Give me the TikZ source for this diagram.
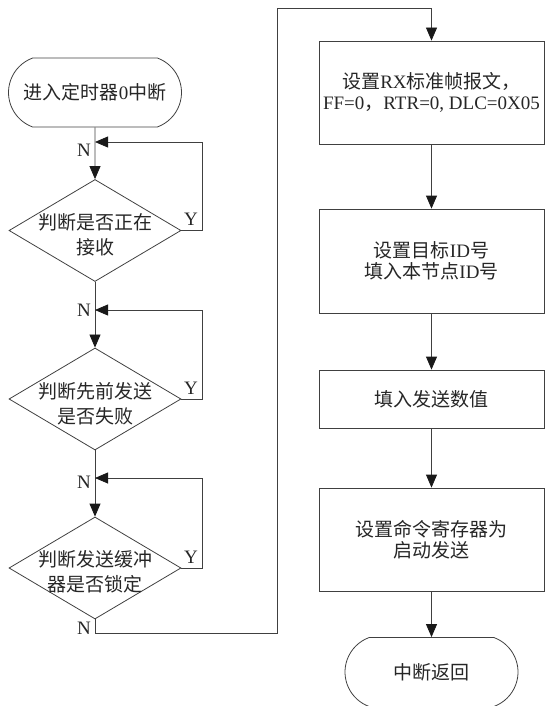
\documentclass[tikz,border=0pt]{standalone}
\usepackage{fontspec}
\setmainfont{Liberation Serif}
\newfontfamily\cjk{Noto Sans CJK SC}
\newfontfamily\latf{Liberation Serif}
\newcommand\lat[1]{{\latf #1}}
\usetikzlibrary{shapes.geometric,shapes.misc,arrows.meta}
\begin{document}
\begin{tikzpicture}[x=1pt,y=-1pt,
  every node/.style={text=black!85},
  txt/.style={font=\cjk\fontsize{19}{21}\selectfont, align=center},
  dtxt/.style={font=\cjk\fontsize{19}{25}\selectfont, align=center, inner sep=0pt},
  term/.style={rounded rectangle, rounded rectangle arc length=140, draw=black!75, line width=0.8pt, minimum width=173pt, minimum height=69pt, inner sep=0pt, txt},
  dia/.style={diamond, draw=black!75, line width=0.8pt, inner sep=0pt, minimum width=172pt, minimum height=102pt},
  proc/.style={rectangle, draw=black!75, line width=0.8pt, minimum width=225pt, inner sep=0pt, txt},
  lab/.style={font=\latf\fontsize{19}{19}\selectfont, inner sep=1pt},
  flow/.style={draw=black!75, line width=0.8pt, -{Triangle[length=13pt,width=11pt,color=black!90]}},
  plain/.style={draw=black!75, line width=0.8pt},
]
\useasboundingbox (0,0) rectangle (544,706);

% left column
\node[term] (start) at (95,92.5) {进入定时器\lat{0}中断};
\node[dia] (d1) at (95,230.5) {};
\node[dtxt, yshift=-4pt] (t1) at (d1) {判断是否正在\\接收};
\node[dia] (d2) at (95,399) {};
\node[dtxt, yshift=-5pt] (t2) at (d2) {判断先前发送\\是否失败};
\node[dia] (d3) at (95,568) {};
\node[dtxt, yshift=-4pt] (t3) at (d3) {判断发送缓冲\\器是否锁定};

\coordinate (j1) at (95,142);  \coordinate (l1) at (202,142);
\coordinate (j2) at (95,310);  \coordinate (l2) at (202,310);
\coordinate (j3) at (95,478);  \coordinate (l3) at (202,478);
\coordinate (c1) at (95,633);  \coordinate (c3) at (277,8);

\draw[flow] (start) -- (d1);
\draw[flow] (d1.east) -| (l1) -- (j1);
\draw[flow] (d1) -- (d2);
\draw[flow] (d2.east) -| (l2) -- (j2);
\draw[flow] (d2) -- (d3);
\draw[flow] (d3.east) -| (l3) -- (j3);

\node[lab, anchor=east] (n1) at (92,150) {N};
\node[lab] (y1) at (191,219) {Y};
\node[lab, anchor=east] (n2) at (92,310) {N};
\node[lab] (y2) at (191,388) {Y};
\node[lab, anchor=east] (n3) at (92,482) {N};
\node[lab] (y3) at (191,557) {Y};
\node[lab, anchor=east] (n4) at (92,628) {N};

% right column
\node[proc, minimum height=103pt] (b1) at (431.5,92.5) {设置\lat{RX}标准帧报文，\\\lat{FF=0}，\lat{RTR=0, DLC=0X05}};
\node[proc, minimum height=104pt] (b2) at (431.5,261) {设置目标\lat{ID}号\\填入本节点\lat{ID}号};
\node[proc, minimum height=58pt] (b3) at (431.5,399) {填入发送数值};
\node[proc, minimum height=103pt] (b4) at (431.5,539.5) {设置命令寄存器为\\启动发送};
\node[term] (end) at (431.5,672) {中断返回};

\draw[flow] (d3.south) -- (c1) -| (c3) -| (b1.north);
\draw[flow] (b1) -- (b2);
\draw[flow] (b2) -- (b3);
\draw[flow] (b3) -- (b4);
\draw[flow] (b4) -- (end);
\end{tikzpicture}
\end{document}
